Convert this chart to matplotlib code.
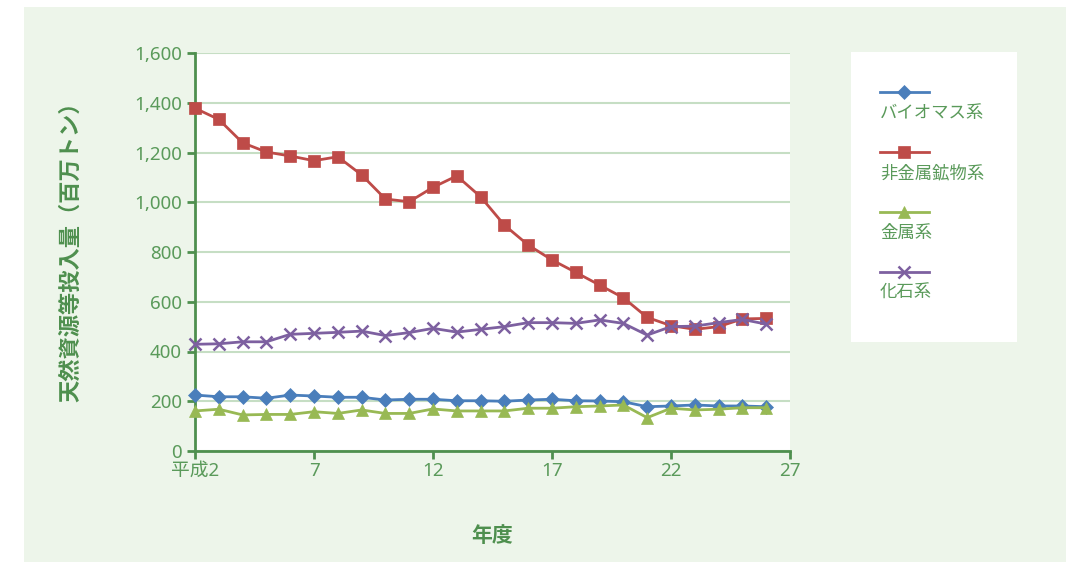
import matplotlib.pyplot as plt
from matplotlib.patches import Rectangle
from matplotlib.ticker import FuncFormatter

plt.rcParams['font.family'] = ['Noto Sans', 'Noto Sans CJK JP', 'DejaVu Sans']

# 年度（平成）
years = list(range(2, 27))
tick_years = [2, 7, 12, 17, 22, 27]
tick_labels = ['平成2', '7', '12', '17', '22', '27']

# 天然資源等投入量（百万トン）
biomass = [225, 218, 218, 212, 225, 221, 216, 216, 205, 208, 208, 202, 202,
           200, 205, 208, 202, 201, 198, 178, 181, 185, 181, 181, 178]
nonmetal = [1378, 1333, 1239, 1202, 1186, 1167, 1183, 1110, 1013, 1002, 1060, 1106, 1022,
            908, 828, 768, 718, 667, 616, 537, 504, 489, 500, 531, 533]
metal = [161, 168, 145, 147, 147, 158, 151, 165, 151, 151, 169, 161, 161,
         161, 172, 172, 178, 181, 185, 134, 172, 165, 168, 174, 174]
fossil = [429, 431, 439, 439, 469, 473, 477, 482, 464, 476, 493, 478, 489,
          500, 516, 516, 513, 527, 513, 466, 500, 502, 516, 529, 510]

series = [
    ('バイオマス系', biomass, '#4A7EBB', 'D', 7),
    ('非金属鉱物系', nonmetal, '#BE4B48', 's', 8),
    ('金属系', metal, '#98B954', '^', 9),
    ('化石系', fossil, '#7D60A0', 'x', 8),
]

bg = '#EDF5EA'
axis_green = '#4E8F4E'
text_green = '#5A9A5A'

fig = plt.figure(figsize=(10.69, 5.62), dpi=100)
fig.patch.set_facecolor('white')
# light green panel behind everything
fig.patches.append(Rectangle((24 / 1069, 0), 1042 / 1069, 555 / 562,
                             transform=fig.transFigure, facecolor=bg,
                             edgecolor='none', zorder=-10))

ax = fig.add_axes([195 / 1069, 1 - 451 / 562, 595 / 1069, 398 / 562])
ax.set_facecolor('white')

for name, vals, color, marker, ms in series:
    ax.plot(years, vals, color=color, lw=2, marker=marker, ms=ms,
            mew=1.8 if marker == 'x' else 0.5, mec=color, mfc=color,
            clip_on=False, zorder=3)

ax.set_xlim(2, 27)
ax.set_ylim(0, 1600)
ax.set_xticks(tick_years)
ax.set_xticklabels(tick_labels)
ax.set_yticks(range(0, 1601, 200))
ax.yaxis.set_major_formatter(FuncFormatter(lambda v, p: f'{int(v):,}'))
ax.grid(axis='y', color='#C6DEC4', lw=1.5)
ax.set_axisbelow(True)

for s in ['top', 'right']:
    ax.spines[s].set_visible(False)
for s in ['left', 'bottom']:
    ax.spines[s].set_color(axis_green)
    ax.spines[s].set_linewidth(2)
ax.tick_params(colors=axis_green, width=2, length=6, labelcolor=text_green,
               labelsize=13.5)
ax.tick_params(axis='x', pad=2)

ax.set_ylabel('天然資源等投入量（百万トン）', color=axis_green, fontsize=16,
              fontweight='bold', family=['Noto Sans CJK JP'])
ax.yaxis.set_label_coords(-0.19, 0.515)
fig.text(492 / 1069, 1 - 535 / 562, '年度', color=axis_green, fontsize=15,
         fontweight='bold', ha='center', va='center', family=['Noto Sans CJK JP'])

# legend box with the label below each line sample
lax = fig.add_axes([851 / 1069, 1 - 342 / 562, 166 / 1069, 290 / 562])
lax.set_xlim(851, 1017)
lax.set_ylim(342, 52)
lax.set_facecolor('white')
lax.set_xticks([])
lax.set_yticks([])
for s in lax.spines.values():
    s.set_visible(False)
for i, (name, vals, color, marker, ms) in enumerate(series):
    y = 92 + 60 * i
    lax.plot([880, 929], [y, y], color=color, lw=2)
    lax.plot([904.5], [y], color=color, marker=marker, ms=ms,
             mew=1.8 if marker == 'x' else 0.5)
    lax.text(880, y + 21, name, color=text_green, fontsize=12.5,
             ha='left', va='center', family=['Noto Sans CJK JP'])

fig.savefig('out.png', dpi=100, facecolor=fig.get_facecolor())
